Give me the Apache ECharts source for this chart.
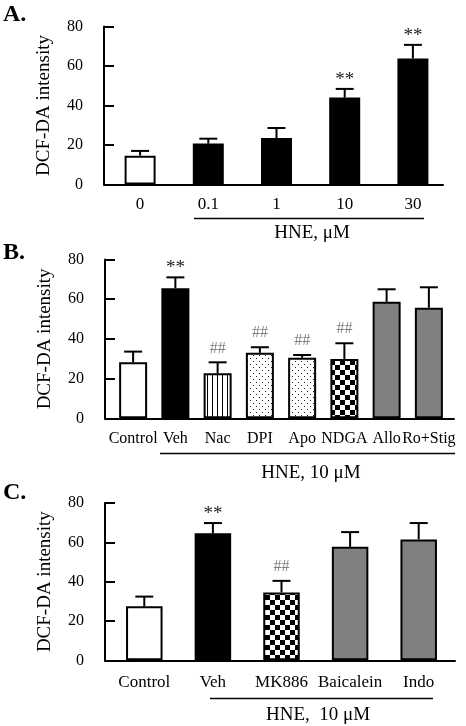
<!DOCTYPE html>
<html><head><meta charset="utf-8">
<script src="https://cdn.jsdelivr.net/npm/echarts/dist/echarts.min.js"></script>
<style>html,body{margin:0;padding:0;background:#fff}#c{width:466px;height:726px}</style>
</head><body><div id="c"></div><script>
// ---------- data ----------
const catsA = ['0', '0.1', '1', '10', '30'];
const meanA = [14.6, 20.7, 23.5, 44.0, 63.8];
const semA  = [2.4, 2.5, 5.1, 4.4, 6.9];
const markA = ['', '', '', '**', '**'];

const catsB = ['Control', 'Veh', 'Nac', 'DPI', 'Apo', 'NDGA', 'Allo', 'Ro+Stig'];
const meanB = [28.2, 65.5, 22.7, 33.0, 30.5, 29.9, 58.7, 55.7];
const semB  = [5.4, 5.5, 5.5, 2.8, 1.4, 7.9, 6.3, 10.3];
const markB = ['', '**', '##', '##', '##', '##', '', ''];

const catsC = ['Control', 'Veh', 'MK886', 'Baicalein', 'Indo'];
const meanC = [27.5, 64.6, 34.5, 57.7, 61.5];
const semC  = [4.9, 5.2, 5.9, 7.5, 8.3];
const markC = ['', '**', '##', '', ''];

const yTicks = [0, 20, 40, 60, 80];
const yAxisName = 'DCF-DA intensity';
const panelLetters = ['A.', 'B.', 'C.'];
const groupLabels = ['HNE, \u03bcM', 'HNE, 10 \u03bcM', 'HNE,  10 \u03bcM'];

// ---------- styles ----------
const fillA = ['white', 'black', 'black', 'black', 'black'];
const fillB = ['white', 'black', 'stripes', 'dots', 'dots', 'checker', 'gray', 'gray'];
const fillC = ['white', 'black', 'checker', 'gray', 'gray'];

const SERIF = '"Liberation Serif", "Times New Roman", serif';

function pattern(kind) {
  if (kind === 'white') return '#ffffff';
  if (kind === 'black') return '#000000';
  if (kind === 'gray') return '#808080';
  const c = document.createElement('canvas');
  const g = c.getContext('2d');
  if (kind === 'stripes') {
    c.width = 5; c.height = 10;
    g.fillStyle = '#fff'; g.fillRect(0, 0, 5, 10);
    g.fillStyle = '#000'; g.fillRect(2, 0, 1, 10);
  } else if (kind === 'dots') {
    c.width = 6; c.height = 6;
    g.fillStyle = '#fff'; g.fillRect(0, 0, 6, 6);
    g.fillStyle = '#222';
    g.fillRect(1, 1, 1, 1); g.fillRect(4, 4, 1, 1);
  } else if (kind === 'checker') {
    c.width = 10; c.height = 10;
    g.fillStyle = '#fff'; g.fillRect(0, 0, 10, 10);
    g.fillStyle = '#000'; g.fillRect(0, 0, 5, 5); g.fillRect(5, 5, 5, 5);
  }
  return { image: c, repeat: 'repeat' };
}

// ---------- layout ----------
const panels = [
  { cats: catsA, mean: meanA, sem: semA, mark: markA, fill: fillA, catFont: 17,
    axisL: 104, axisR: 443, barL: 106, barR: 447, y0: 184.5, yTop: 26.5, barW: 31, labMargin: 12,
    letterY: 3, bracket: { x1: 194, x2: 424, y: 218.5, textX: 312, textY: 233 } },
  { cats: catsB, mean: meanB, sem: semB, mark: markB, fill: fillB, catFont: 16,
    axisL: 105, axisR: 454, barL: 112, barR: 450, y0: 418.3, yTop: 259.5, barW: 28, labMargin: 12,
    letterY: 241, bracket: { x1: 160, x2: 455, y: 453.5, textX: 311, textY: 473 } },
  { cats: catsC, mean: meanC, sem: semC, mark: markC, fill: fillC, catFont: 17,
    axisL: 105, axisR: 455, barL: 110, barR: 453, y0: 660.3, yTop: 503, barW: 36.5, labMargin: 14,
    letterY: 481, bracket: { x1: 210, x2: 433, y: 698.5, textX: 318, textY: 715 } }
];

const grid = [], xAxis = [], yAxis = [], series = [], graphic = [];
const yMin = yTicks[0], yMax = yTicks[yTicks.length - 1], yInt = yTicks[1] - yTicks[0];

panels.forEach((p, k) => {
  const outer = 2 * k, inner = 2 * k + 1;
  grid.push({ left: p.axisL, width: p.axisR - p.axisL, top: p.yTop, height: p.y0 - p.yTop, outerBoundsMode: 'none', containLabel: false });
  grid.push({ left: p.barL, width: p.barR - p.barL, top: p.yTop, height: p.y0 - p.yTop, outerBoundsMode: 'none', containLabel: false });
  xAxis.push({ gridIndex: outer, type: 'value', min: 0, max: 1,
    axisLine: { show: true, lineStyle: { color: '#000', width: 2 } },
    axisTick: { show: false }, axisLabel: { show: false }, splitLine: { show: false } });
  xAxis.push({ gridIndex: inner, type: 'category', data: p.cats,
    axisLine: { show: false }, axisTick: { show: false }, splitLine: { show: false },
    axisLabel: { interval: 0, margin: p.labMargin, color: '#000', fontFamily: SERIF, fontSize: p.catFont } });
  yAxis.push({ gridIndex: outer, type: 'value', min: yMin, max: yMax, interval: yInt,
    name: yAxisName, nameLocation: 'middle', nameGap: 50,
    nameTextStyle: { color: '#000', fontFamily: SERIF, fontSize: 19 },
    axisLine: { show: true, lineStyle: { color: '#000', width: 2 } },
    axisTick: { show: true, inside: true, length: 10, lineStyle: { color: '#000', width: 2 } },
    axisLabel: { margin: 21, color: '#000', fontFamily: SERIF, fontSize: 16 },
    splitLine: { show: false } });
  yAxis.push({ gridIndex: inner, type: 'value', min: yMin, max: yMax, show: false });

  series.push({ type: 'bar', xAxisIndex: inner, yAxisIndex: inner, barWidth: p.barW,
    data: p.mean.map((v, i) => ({ value: v, itemStyle: { color: pattern(p.fill[i]) } })),
    itemStyle: { borderColor: '#000', borderWidth: 2 }, silent: true, animation: false });

  const marks = p.mark;
  series.push({ type: 'custom', xAxisIndex: inner, yAxisIndex: inner, clip: false, z: 5, animation: false,
    data: p.mean.map((v, i) => [i, v, p.sem[i]]),
    encode: { x: 0, y: 1 },
    renderItem: function (params, api) {
      const i = api.value(0), m = api.value(1), e = api.value(2);
      const a = api.coord([i, m]), b = api.coord([i, m + e]);
      const ch = [
        { type: 'line', shape: { x1: a[0], y1: a[1], x2: b[0], y2: b[1] }, style: { stroke: '#000', lineWidth: 2 } },
        { type: 'line', shape: { x1: b[0] - 9, y1: b[1], x2: b[0] + 9, y2: b[1] }, style: { stroke: '#000', lineWidth: 2 } }
      ];
      const mk = marks[params.dataIndex];
      if (mk) {
        const star = mk === '**';
        ch.push({ type: 'text', style: { text: mk, x: b[0], y: b[1] - (star ? 9 : 14),
          align: 'center', verticalAlign: 'middle', fill: star ? '#222' : '#808080',
          font: (star ? '19px ' : '16px ') + SERIF } });
      }
      return { type: 'group', children: ch };
    } });

  graphic.push({ type: 'text', left: 3, top: p.letterY,
    style: { text: panelLetters[k], fill: '#000', font: 'bold 24px ' + SERIF } });
  const br = p.bracket;
  graphic.push({ type: 'line', shape: { x1: br.x1, y1: br.y, x2: br.x2, y2: br.y }, style: { stroke: '#000', lineWidth: 1.5 } });
  graphic.push({ type: 'text', x: br.textX, y: br.textY,
    style: { text: groupLabels[k], fill: '#000', font: '19px ' + SERIF, align: 'center', verticalAlign: 'middle' } });
});

const chart = echarts.init(document.getElementById('c'), null, { renderer: 'canvas' });
chart.setOption({ animation: false, backgroundColor: '#fff', grid, xAxis, yAxis, series, graphic });
</script></body></html>
